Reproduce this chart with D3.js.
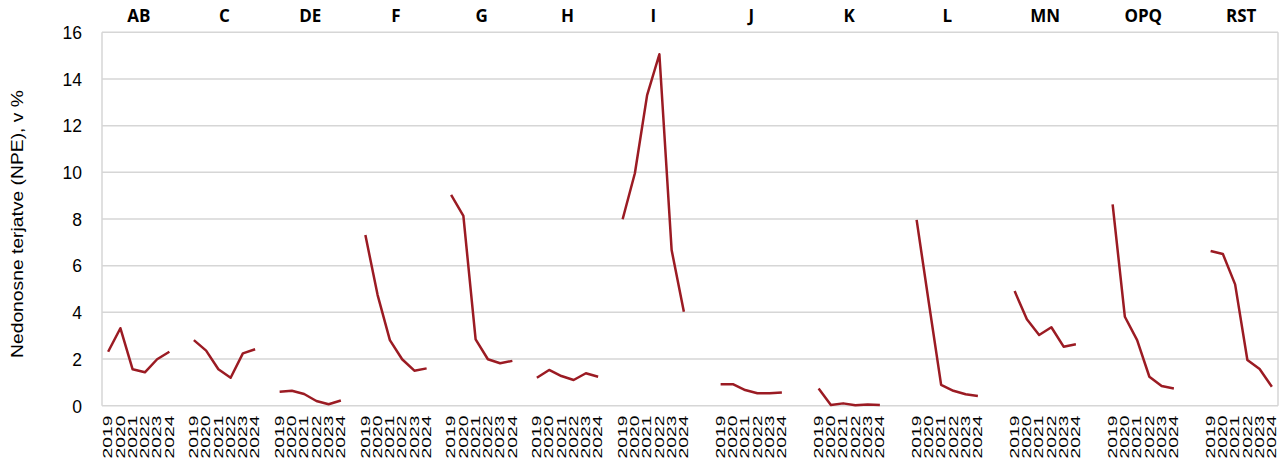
<!DOCTYPE html>
<html>
<head>
<meta charset="utf-8">
<script src="https://d3js.org/d3.v7.min.js"></script>
<style>
  body { margin: 0; background: #fff; }
  svg { display: block; }
  .tick text, .ytitle { font-family: "Liberation Sans", Arial, sans-serif; fill: #000; }
  .grp { font-family: "Open Sans", "Liberation Sans", sans-serif; font-weight: 700; }
</style>
</head>
<body>
<script>
// sectors and years
var groups = ["AB", "C", "DE", "F", "G", "H", "I", "J", "K", "L", "MN", "OPQ", "RST"];
var years = ["2019", "2020", "2021", "2022", "2023", "2024"];
// empty categories after each sector on the axis
var blanksAfter = [1, 1, 1, 1, 1, 1, 2, 2, 2, 2, 2, 2];

// NPE share, %, one array per sector (2019..2024)
var vAB  = [2.31, 3.32, 1.56, 1.43, 1.99, 2.31];
var vC   = [2.81, 2.36, 1.56, 1.20, 2.24, 2.42];
var vDE  = [0.60, 0.64, 0.50, 0.20, 0.06, 0.22];
var vF   = [7.31, 4.74, 2.81, 1.99, 1.50, 1.60];
var vG   = [9.03, 8.13, 2.84, 1.99, 1.82, 1.92];
var vH   = [1.20, 1.53, 1.27, 1.10, 1.39, 1.24];
var vI   = [7.99, 9.96, 13.31, 15.06, 6.67, 4.03];
var vJ   = [0.92, 0.92, 0.67, 0.53, 0.53, 0.57];
var vK   = [0.74, 0.03, 0.10, 0.02, 0.05, 0.03];
var vL   = [7.96, 4.40, 0.89, 0.64, 0.49, 0.42];
var vMN  = [4.91, 3.70, 3.03, 3.36, 2.53, 2.63];
var vOPQ = [8.63, 3.81, 2.81, 1.24, 0.84, 0.74];
var vRST = [6.63, 6.50, 5.20, 1.96, 1.57, 0.81];
var values = [vAB, vC, vDE, vF, vG, vH, vI, vJ, vK, vL, vMN, vOPQ, vRST];

var yTicks = [0, 2, 4, 6, 8, 10, 12, 14, 16];

var width = 1284, height = 463;
var margin = {top: 32.3, right: 6, bottom: 57.3, left: 102};
var w = width - margin.left - margin.right;
var h = height - margin.top - margin.bottom;

// build the category list (with blank slots between sectors)
var cats = [];
groups.forEach(function(g, gi) {
  years.forEach(function(yr) { cats.push({key: g + "|" + yr, group: g, year: yr}); });
  if (gi < blanksAfter.length) {
    for (var b = 0; b < blanksAfter[gi]; b++) cats.push({key: "blank" + gi + "_" + b, blank: true});
  }
});

var svg = d3.select("body").append("svg")
  .attr("width", width)
  .attr("height", height);

var g = svg.append("g")
  .attr("transform", "translate(" + margin.left + "," + margin.top + ")");

var x = d3.scalePoint()
  .domain(cats.map(function(d) { return d.key; }))
  .range([0, w])
  .padding(0.5);

var y = d3.scaleLinear()
  .domain([0, 16])
  .range([h, 0]);

// gridlines
g.append("g")
  .selectAll("line")
  .data(yTicks)
  .enter().append("line")
  .attr("x1", 0).attr("x2", w)
  .attr("y1", function(d) { return y(d); })
  .attr("y2", function(d) { return y(d); })
  .attr("stroke", "#d6d6d6")
  .attr("stroke-width", 1.5);

// plot border sides
g.append("line").attr("x1", 0).attr("x2", 0).attr("y1", 0).attr("y2", h)
  .attr("stroke", "#d6d6d6").attr("stroke-width", 1.5);
g.append("line").attr("x1", w).attr("x2", w).attr("y1", 0).attr("y2", h)
  .attr("stroke", "#d6d6d6").attr("stroke-width", 1.5);

// y axis
var yAxis = g.append("g")
  .call(d3.axisLeft(y).tickValues(yTicks).tickSize(0).tickPadding(20));
yAxis.select(".domain").remove();
yAxis.selectAll("text").attr("font-size", 17.5).attr("dy", "0.36em");

// y title
svg.append("text")
  .attr("class", "ytitle")
  .attr("transform", "translate(17.5,224) rotate(-90) scale(1.17,1)")
  .attr("text-anchor", "middle")
  .attr("dy", "0.35em")
  .attr("font-size", 16.5)
  .text("Nedonosne terjatve (NPE), v %");

// year labels (squeezed like the original)
var realCats = cats.filter(function(d) { return !d.blank; });
g.append("g")
  .selectAll("text")
  .data(realCats)
  .enter().append("text")
  .attr("class", "tick")
  .attr("transform", function(d) {
    return "translate(" + x(d.key) + "," + (h + 10) + ") rotate(-90) scale(1.6,1)";
  })
  .attr("text-anchor", "end")
  .attr("dy", "0.36em")
  .attr("font-family", "Liberation Sans, Arial, sans-serif")
  .attr("font-size", 12)
  .text(function(d) { return d.year; });

// sector labels on top
g.append("g")
  .selectAll("text")
  .data(groups)
  .enter().append("text")
  .attr("class", "grp")
  .attr("x", function(d) { return (x(d + "|" + years[0]) + x(d + "|" + years[years.length - 1])) / 2; })
  .attr("y", -10)
  .attr("text-anchor", "middle")
  .attr("font-size", 17)
  .text(function(d) { return d; });

// lines
var line = d3.line()
  .x(function(d) { return x(d.key); })
  .y(function(d) { return y(d.v); });

g.append("g")
  .selectAll("path")
  .data(groups.map(function(gr, gi) {
    return values[gi].map(function(v, i) { return {key: gr + "|" + years[i], v: v}; });
  }))
  .enter().append("path")
  .attr("d", line)
  .attr("fill", "none")
  .attr("stroke", "#9b1b23")
  .attr("stroke-width", 2.5)
  .attr("stroke-linejoin", "round");
</script>
</body>
</html>
